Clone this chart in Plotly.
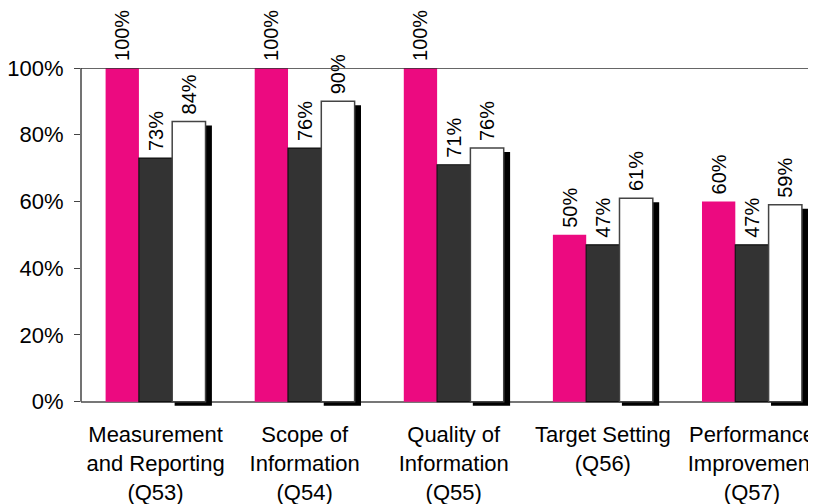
import plotly.graph_objects as go

categories = ["Measurement<br>and Reporting<br>(Q53)", "Scope of<br>Information<br>(Q54)",
              "Quality of<br>Information<br>(Q55)", "Target Setting<br>(Q56)",
              "Performance<br>Improvement<br>(Q57)"]
series_a = [100, 100, 100, 50, 60]
series_b = [73, 76, 71, 47, 47]
series_c = [84, 90, 76, 61, 59]
y_ticks = [0, 20, 40, 60, 80, 100]
y_tick_labels = ["0%", "20%", "40%", "60%", "80%", "100%"]

FONT = "Liberation Sans, Arial, sans-serif"
FS = 22
BW = 0.2235
lab = dict(texttemplate="\u2009%{y:.0f}%", textposition="outside", textangle=-90,
           cliponaxis=False, constraintext="none",
           outsidetextfont=dict(family=FONT, size=20, color="black"))

fig = go.Figure()
fig.add_bar(x=categories, y=series_a, width=BW, offset=-0.335,
            marker=dict(color="#EC0A80", line=dict(width=0)), **lab)
fig.add_bar(x=categories, y=series_b, width=BW, offset=-0.1117,
            marker=dict(color="#333333", line=dict(color="#111111", width=1.2)), **lab)
# shadow of third series
fig.add_bar(x=categories, y=series_c, base=-1.2, width=0.25, offset=0.128,
            marker=dict(color="black", line=dict(width=0)), hoverinfo="skip")
fig.add_bar(x=categories, y=series_c, width=BW, offset=0.1117,
            marker=dict(color="white", line=dict(color="#444444", width=1.5)), **lab)

fig.update_layout(
    width=808, height=496, barmode="overlay", showlegend=False,
    plot_bgcolor="white", paper_bgcolor="white",
    margin=dict(l=73, r=1, t=60, b=98),
    font=dict(family=FONT, size=FS, color="black"),
    xaxis=dict(type="category", range=[-0.5, 4.423], showline=False, ticks="outside",
               ticklen=9, tickcolor="rgba(0,0,0,0)",
               showgrid=False, zeroline=False, automargin=False,
               tickfont=dict(family=FONT, size=FS)),
    yaxis=dict(range=[-1.3, 100], tickvals=y_ticks, ticktext=y_tick_labels,
               ticks="outside", ticklen=6, tickcolor="#444444", showgrid=False,
               ticklabelstandoff=6,
               showline=False, zeroline=True, zerolinecolor="#777777", zerolinewidth=1.5,
               automargin=False, tickfont=dict(family=FONT, size=FS)),
    shapes=[
        dict(type="line", xref="paper", yref="y", x0=0, x1=0, y0=0, y1=100,
             line=dict(color="#444444", width=1.5)),
        dict(type="line", xref="paper", yref="y", x0=0, x1=1, y0=100, y1=100,
             line=dict(color="#333333", width=1.5)),
    ],
)
fig.write_html("out.html")
